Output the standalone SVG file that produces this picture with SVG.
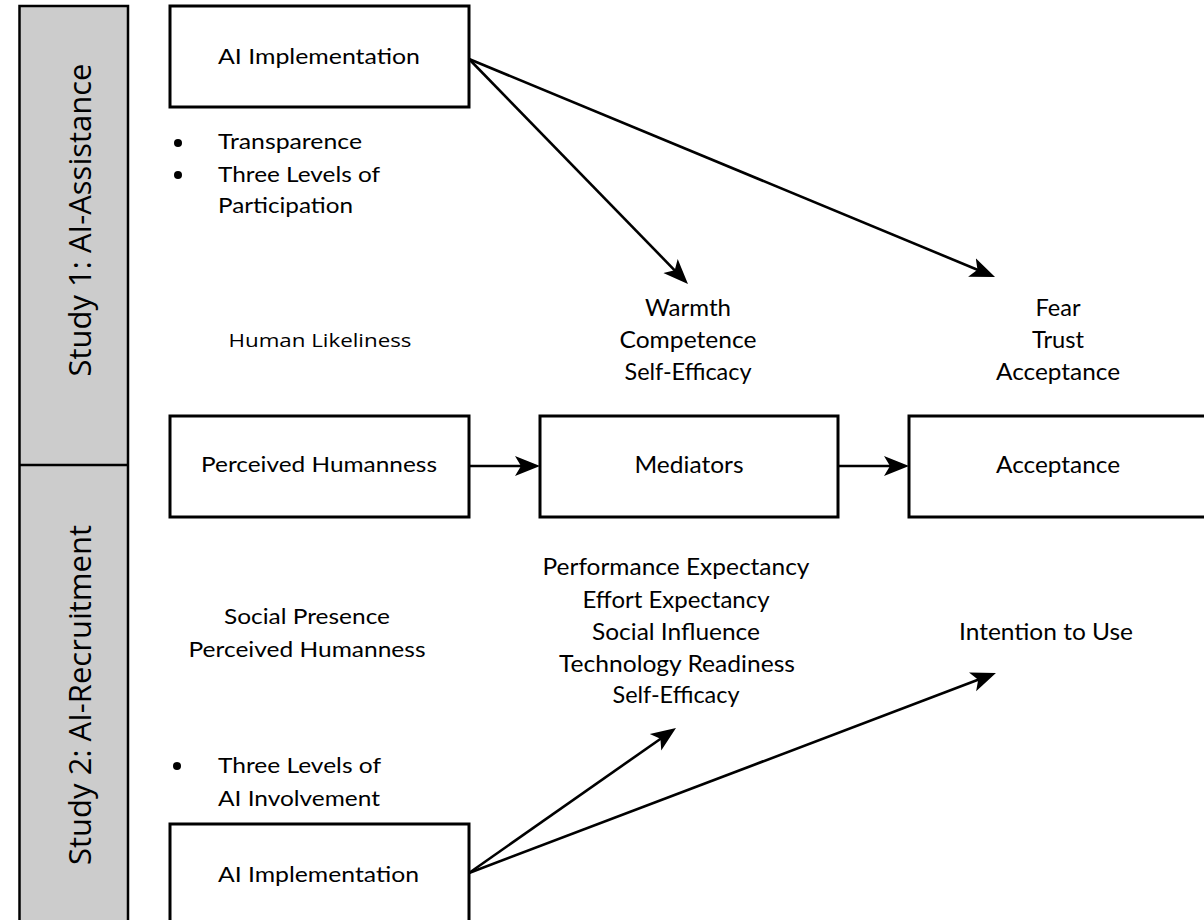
<svg xmlns="http://www.w3.org/2000/svg" width="1204" height="920" viewBox="0 0 1204 920">
<style>
.box{fill:#ffffff;stroke:#000000;stroke-width:3}
.side{fill:#cccccc;stroke:#000000;stroke-width:2.5}
.lt{font-family:Lato,"Noto Sans",sans-serif;font-size:21px;fill:#000000}
.rt{font-family:Lato,"Noto Sans",sans-serif;font-size:24px;fill:#000000}
.st{font-family:"Open Sans","Noto Sans",sans-serif;font-size:31px;fill:#000000}
.hl{font-family:"Open Sans","Noto Sans",sans-serif;font-size:18px;fill:#000000}
.c{text-anchor:middle}
.conn{stroke:#000000;stroke-width:2.6;fill:none}
</style>
<defs>
<marker id="ah" markerUnits="userSpaceOnUse" markerWidth="30" markerHeight="24" refX="15" refY="12" orient="auto">
<path d="M0,2 L25,12 L0,22 L6,12 Z" fill="#000000"/>
</marker>
</defs>

<g id="sidebar">
<rect class="side" x="19.5" y="6" width="108.5" height="925"/>
<line x1="19.5" y1="465" x2="128" y2="465" stroke="#000000" stroke-width="2.5"/>
<text class="st c" transform="translate(91,220) rotate(-90)">Study 1: AI-Assistance</text>
<text class="st c" transform="translate(91,695) rotate(-90)">Study 2: AI-Recruitment</text>
</g>

<g id="ai-impl-1">
<rect class="box" x="170" y="6" width="299" height="101"/>
<text class="lt" x="218" y="64" textLength="202" lengthAdjust="spacingAndGlyphs">AI Implementation</text>
</g>

<g id="ai-impl-1-notes">
<circle cx="178" cy="143" r="4"/>
<circle cx="178" cy="175" r="4"/>
<text class="lt" x="218" y="149" textLength="144" lengthAdjust="spacingAndGlyphs">Transparence</text>
<text class="lt" x="218" y="182" textLength="162" lengthAdjust="spacingAndGlyphs">Three Levels of</text>
<text class="lt" x="218" y="213" textLength="135" lengthAdjust="spacingAndGlyphs">Participation</text>
</g>

<g id="human-likeliness">
<text class="hl c" x="320" y="347" textLength="183" lengthAdjust="spacingAndGlyphs">Human Likeliness</text>
</g>

<g id="mediators-1-notes">
<text class="rt c" x="688" y="316" textLength="86" lengthAdjust="spacingAndGlyphs">Warmth</text>
<text class="rt c" x="688" y="348" textLength="137" lengthAdjust="spacingAndGlyphs">Competence</text>
<text class="rt c" x="688" y="380" textLength="127" lengthAdjust="spacingAndGlyphs">Self-Efficacy</text>
</g>

<g id="acceptance-1-notes">
<text class="rt c" x="1058" y="316" textLength="45" lengthAdjust="spacingAndGlyphs">Fear</text>
<text class="rt c" x="1058" y="348" textLength="52" lengthAdjust="spacingAndGlyphs">Trust</text>
<text class="rt c" x="1058" y="380" textLength="124" lengthAdjust="spacingAndGlyphs">Acceptance</text>
</g>

<g id="perceived-humanness">
<rect class="box" x="170" y="416" width="299" height="101"/>
<text class="lt c" x="319" y="472" textLength="236" lengthAdjust="spacingAndGlyphs">Perceived Humanness</text>
</g>

<g id="mediators">
<rect class="box" x="540" y="416" width="298" height="101"/>
<text class="rt c" x="689" y="473" textLength="109" lengthAdjust="spacingAndGlyphs">Mediators</text>
</g>

<g id="acceptance">
<rect class="box" x="909" y="416" width="299" height="101"/>
<text class="rt c" x="1058" y="473" textLength="124" lengthAdjust="spacingAndGlyphs">Acceptance</text>
</g>

<g id="humanness-2-notes">
<text class="lt c" x="307" y="624" textLength="166" lengthAdjust="spacingAndGlyphs">Social Presence</text>
<text class="lt c" x="307" y="657" textLength="237" lengthAdjust="spacingAndGlyphs">Perceived Humanness</text>
</g>

<g id="mediators-2-notes">
<text class="rt c" x="676" y="575" textLength="267" lengthAdjust="spacingAndGlyphs">Performance Expectancy</text>
<text class="rt c" x="676" y="608" textLength="187" lengthAdjust="spacingAndGlyphs">Effort Expectancy</text>
<text class="rt c" x="676" y="640" textLength="168" lengthAdjust="spacingAndGlyphs">Social Influence</text>
<text class="rt c" x="677" y="672" textLength="236" lengthAdjust="spacingAndGlyphs">Technology Readiness</text>
<text class="rt c" x="676" y="703" textLength="127" lengthAdjust="spacingAndGlyphs">Self-Efficacy</text>
</g>

<g id="intention-notes">
<text class="rt c" x="1046" y="640" textLength="174" lengthAdjust="spacingAndGlyphs">Intention to Use</text>
</g>

<g id="ai-impl-2-notes">
<circle cx="177" cy="766" r="4"/>
<text class="lt" x="218" y="773" textLength="163" lengthAdjust="spacingAndGlyphs">Three Levels of</text>
<text class="lt" x="218" y="806" textLength="162" lengthAdjust="spacingAndGlyphs">AI Involvement</text>
</g>

<g id="ai-impl-2">
<rect class="box" x="170" y="824" width="299" height="101"/>
<text class="lt" x="218" y="882" textLength="201" lengthAdjust="spacingAndGlyphs">AI Implementation</text>
</g>

<g id="connectors">
<line class="conn" x1="469" y1="59" x2="681" y2="276.8" marker-end="url(#ah)"/>
<line class="conn" x1="469" y1="59" x2="985.8" y2="273.2" marker-end="url(#ah)"/>
<line class="conn" x1="469" y1="466" x2="530" y2="466" marker-end="url(#ah)"/>
<line class="conn" x1="838" y1="466" x2="899" y2="466" marker-end="url(#ah)"/>
<line class="conn" x1="469" y1="873" x2="667.8" y2="733.7" marker-end="url(#ah)"/>
<line class="conn" x1="469" y1="873" x2="986.6" y2="676.5" marker-end="url(#ah)"/>
</g>
</svg>
